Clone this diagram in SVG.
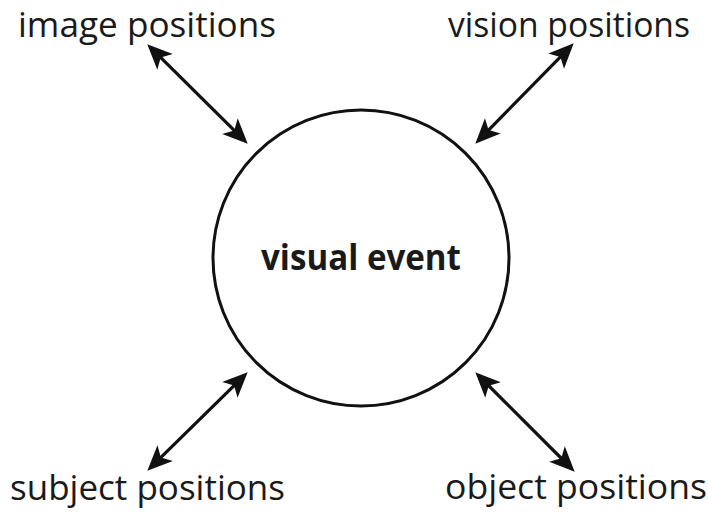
<svg xmlns="http://www.w3.org/2000/svg" width="708" height="512" viewBox="0 0 708 512">
<style>
.lbl{font-family:"Open Sans","Noto Sans","Liberation Sans",sans-serif;font-size:35px;fill:#1a1a1a}
.ctr{font-family:"Open Sans","Noto Sans","Liberation Sans",sans-serif;font-size:35px;font-weight:bold;fill:#1a1a1a}
.conn line{stroke:#111;stroke-width:3.2;marker-start:url(#ah);marker-end:url(#ah)}
</style>
<defs>
<marker id="ah" markerUnits="userSpaceOnUse" markerWidth="40" markerHeight="40" refX="0" refY="0" orient="auto-start-reverse" overflow="visible">
<path d="M13,0 L-12,-11 L-6,0 L-12,11 Z" fill="#111"/>
</marker>
</defs>
<rect width="708" height="512" fill="#fff"/>
<g id="visual-event">
<circle cx="361" cy="258" r="148" fill="#fff" stroke="#111" stroke-width="3"/>
<text class="ctr" x="261" y="270" textLength="200" lengthAdjust="spacingAndGlyphs">visual event</text>
</g>
<g id="image-positions"><text class="lbl" x="18" y="37" textLength="258" lengthAdjust="spacingAndGlyphs">image positions</text></g>
<g id="vision-positions"><text class="lbl" x="448" y="37" textLength="242" lengthAdjust="spacingAndGlyphs">vision positions</text></g>
<g id="subject-positions"><text class="lbl" x="10" y="500" textLength="275" lengthAdjust="spacingAndGlyphs">subject positions</text></g>
<g id="object-positions"><text class="lbl" x="445" y="499" textLength="262" lengthAdjust="spacingAndGlyphs">object positions</text></g>
<g id="connectors" class="conn">
<line x1="156.5" y1="53.4" x2="238.5" y2="134.6"/>
<line x1="564.6" y1="52.6" x2="484.4" y2="134.4"/>
<line x1="238.4" y1="381.4" x2="156.6" y2="461.6"/>
<line x1="484.5" y1="381.5" x2="565.5" y2="462.5"/>
</g>
</svg>
